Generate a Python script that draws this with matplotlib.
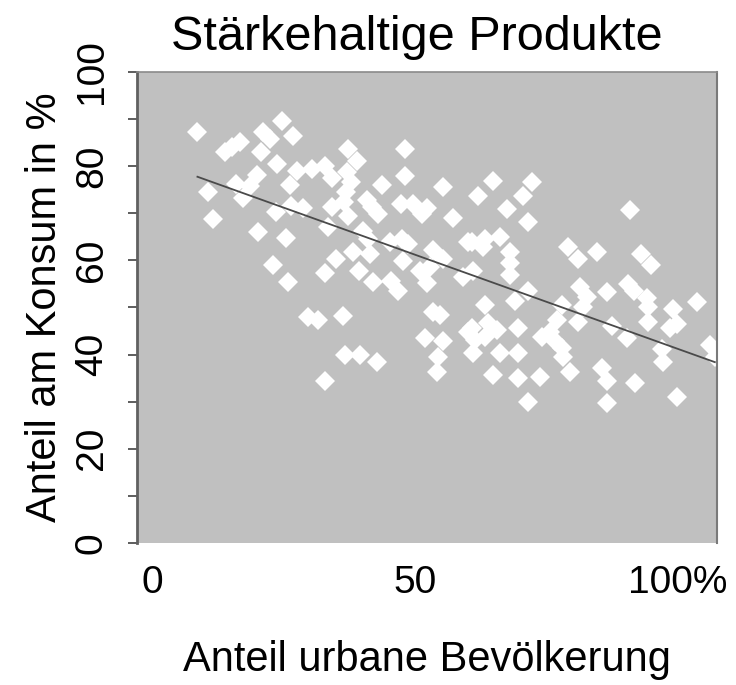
import numpy as np
import matplotlib
matplotlib.use("Agg")
import matplotlib.pyplot as plt
from matplotlib.ticker import MultipleLocator

# --- DATA ---
URBAN_SHARE = [
    8.6, 13.9, 15.2, 16.7, 21.1, 22.4, 24.7, 26.8, 20.7, 23.8,
    27.6, 30.4, 20.0, 18.6, 26.2, 16.0, 10.6, 17.3, 23.6, 26.4,
    28.7, 11.6, 20.2, 25.5, 23.0, 25.9, 29.7, 31.6, 32.9, 34.2,
    37.3, 39.0, 37.1, 37.8, 36.9, 36.5, 34.2, 37.3, 40.9, 41.8,
    43.0, 43.7, 48.1, 48.1, 47.4, 49.6, 52.3, 51.3, 55.3, 57.2,
    60.1, 33.5, 40.1, 41.1, 45.2, 47.5, 48.7, 53.4, 55.3, 35.0,
    38.2, 41.4, 47.7, 32.9, 39.4, 42.0, 45.4, 46.8, 51.0, 52.3,
    52.9, 59.1, 36.3, 53.4, 54.8, 51.9, 55.3, 60.1, 54.4, 54.2,
    36.7, 39.5, 42.8, 32.9, 64.8, 72.2, 62.0, 70.5, 67.5, 71.5,
    60.8, 63.3, 62.9, 66.2, 68.1, 68.1, 68.1, 79.1, 81.0, 84.6,
    61.0, 81.4, 82.7, 81.9, 86.5, 71.5, 69.0, 63.3, 77.9, 77.0,
    81.0, 87.5, 60.8, 63.9, 65.6, 63.3, 61.4, 61.0, 69.6, 74.1,
    75.7, 76.6, 77.9, 78.1, 66.2, 69.6, 64.8, 69.6, 73.8, 79.5,
    85.6, 86.5, 71.5, 86.5, 90.9, 93.0, 94.9, 90.5, 91.6, 94.1,
    94.3, 94.3, 99.0, 103.6, 98.5, 99.8, 106.1, 107.0, 97.0, 97.2,
    90.3, 91.8, 99.8,
]
STARCH_SHARE = [
    87.2, 83.0, 84.0, 85.1, 87.2, 85.7, 89.6, 86.4, 83.0, 80.4,
    78.9, 79.4, 78.1, 75.7, 76.0, 76.2, 74.5, 73.2, 70.2, 71.5,
    71.1, 68.7, 66.0, 64.7, 59.1, 55.5, 47.9, 47.4, 80.0, 77.4,
    83.6, 81.1, 78.7, 76.6, 74.5, 72.3, 71.3, 69.4, 72.8, 71.3,
    69.8, 76.0, 83.6, 77.9, 71.9, 71.9, 71.1, 69.8, 75.5, 69.1,
    64.0, 67.0, 66.2, 64.5, 64.0, 64.5, 63.4, 62.3, 60.2, 60.4,
    61.7, 61.3, 59.8, 57.4, 57.7, 55.5, 55.7, 53.4, 57.7, 55.3,
    58.5, 56.4, 48.1, 49.1, 48.5, 43.6, 42.8, 44.9, 39.4, 36.4,
    40.0, 40.0, 38.5, 34.3, 76.8, 76.6, 73.6, 73.6, 70.9, 68.1,
    64.0, 64.5, 62.8, 64.9, 61.7, 59.4, 57.0, 62.8, 60.4, 61.7,
    57.7, 54.3, 52.3, 50.2, 53.2, 53.4, 51.3, 50.6, 50.6, 47.4,
    47.0, 46.0, 45.7, 46.8, 45.3, 43.8, 43.2, 40.4, 45.7, 43.8,
    44.7, 42.8, 41.5, 39.4, 40.4, 40.4, 35.7, 35.1, 35.3, 36.2,
    37.2, 34.5, 30.0, 29.8, 70.6, 61.3, 59.1, 54.9, 53.4, 52.1,
    50.2, 47.0, 49.6, 51.1, 45.7, 46.4, 42.1, 39.4, 41.1, 38.5,
    43.6, 34.0, 30.9,
]

# linear trend as drawn in the reference: y = slope * x + intercept
TREND_SLOPE = -0.40
TREND_INTERCEPT = 81.2

X_TICKS = [0, 50, 100]
X_TICK_LABELS = ['0', '50', '100%']
Y_TICKS = [0, 20, 40, 60, 80, 100]


def draw_chart():
    plt.rcParams['font.family'] = ['Liberation Sans', 'DejaVu Sans']

    fig = plt.figure(figsize=(7.36, 6.85), dpi=100)
    ax = fig.add_axes([0.1861, 0.2073, 0.7880, 0.6876])
    ax.set_facecolor('#c0c0c0')

    x = np.array(URBAN_SHARE)
    y = np.array(STARCH_SHARE)

    # white diamonds
    ax.plot(x, y, linestyle='none', marker='D', markersize=9.8,
            markerfacecolor='white', markeredgewidth=0, zorder=2)

    # trend line across the data range
    tx = np.array([x.min(), x.max()])
    ax.plot(tx, TREND_SLOPE * tx + TREND_INTERCEPT,
            color='#4a4a4a', linewidth=1.3, zorder=3)

    ax.set_xlim(-2.9, 107.4)
    ax.set_ylim(0, 100)

    # axes frame: thick left axis, thin top/right, no bottom line
    ax.spines['left'].set_color('#606060')
    ax.spines['left'].set_linewidth(2.0)
    ax.spines['top'].set_color('#8a8a8a')
    ax.spines['top'].set_linewidth(1.2)
    ax.spines['right'].set_color('#7a7a7a')
    ax.spines['right'].set_linewidth(1.5)
    ax.spines['bottom'].set_visible(False)

    ax.set_yticks(Y_TICKS)
    ax.yaxis.set_minor_locator(MultipleLocator(10))
    ax.tick_params(axis='y', which='both', direction='out', length=6.5,
                   width=1.3, color='#505050')
    ax.tick_params(axis='y', which='major', labelsize=28, pad=13)
    for lbl in ax.get_yticklabels():
        lbl.set_rotation(90)
        lbl.set_verticalalignment('center')

    ax.set_xticks(X_TICKS)
    ax.set_xticklabels(X_TICK_LABELS)
    ax.tick_params(axis='x', length=0, labelsize=28, pad=16)

    ax.set_title('Stärkehaltige Produkte', fontsize=35, pad=16, x=0.483)
    ax.set_xlabel('Anteil urbane Bevölkerung', fontsize=30)
    ax.xaxis.set_label_coords(0.5, -0.205)
    ax.set_ylabel('Anteil am Konsum in %', fontsize=30)
    ax.yaxis.set_label_coords(-0.124, 0.5)

    fig.savefig('out.png', dpi=100, facecolor='white')


if __name__ == '__main__':
    draw_chart()
